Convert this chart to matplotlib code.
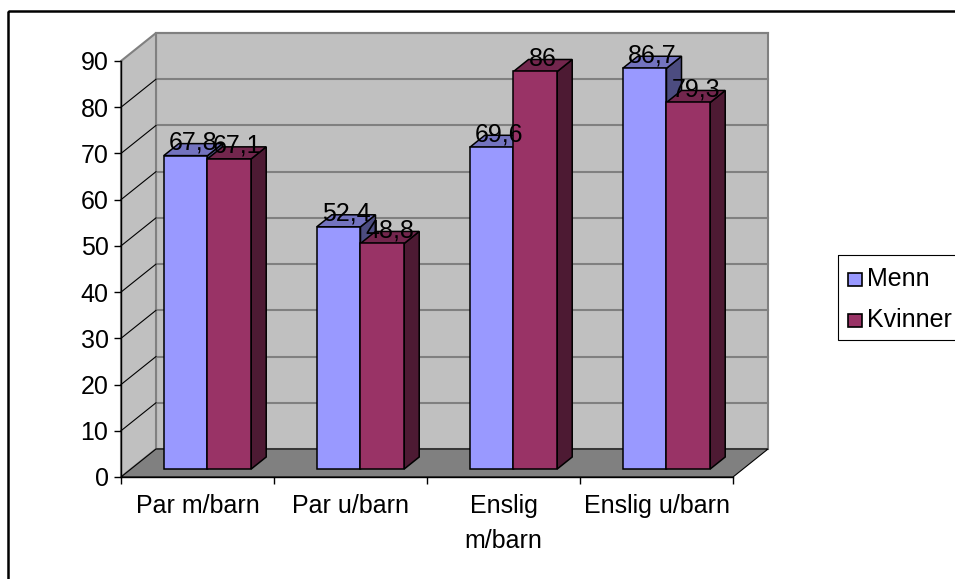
import matplotlib
matplotlib.use('agg')
import matplotlib.pyplot as plt
from matplotlib.patches import Polygon, Rectangle

# data
kategorier = ['Par m/barn', 'Par u/barn', 'Enslig\nm/barn', 'Enslig u/barn']
serier = ['Menn', 'Kvinner']
menn = [67.8, 52.4, 69.6, 86.7]
kvinner = [67.1, 48.8, 86, 79.3]
yticks = list(range(0, 100, 10))

farger = {'Menn': ('#9999FF', '#7373BF', '#4C4C80'),
          'Kvinner': ('#993366', '#73264D', '#4D1A33')}

plt.rcParams['font.family'] = ['Liberation Sans', 'DejaVu Sans']
plt.rcParams['font.size'] = 18

W, H = 955, 579
fig = plt.figure(figsize=(W / 100, H / 100), dpi=100)

# bakgrunn i piksler: ramme og forklaring
bg = fig.add_axes([0, 0, 1, 1], zorder=0)
bg.set_xlim(0, W)
bg.set_ylim(H, 0)
bg.axis('off')
bg.add_patch(Rectangle((8, 11), 1000, 1000, fill=False, ec='black', lw=1.8, clip_on=False))

# diagramflate (frontplanet)
x0, x1, y0, y1 = 121, 733, 61, 477
ax = fig.add_axes([x0 / W, 1 - y1 / H, (x1 - x0) / W, (y1 - y0) / H], zorder=2)
ax.set_facecolor('none')
ax.set_xlim(0, len(kategorier))
ax.set_ylim(0, 90)

# dybdeforskyvning i dataenheter
DX = 35 / ((x1 - x0) / len(kategorier))
DY = 28 / ((y1 - y0) / 90)
N = len(kategorier)


def proj(x, z, d):
    return (x + d * DX, z + d * DY)


def flate(pts, fc, ec='black', lw=1.0, z=1):
    ax.add_patch(Polygon(pts, closed=True, fc=fc, ec=ec, lw=lw, zorder=z,
                         clip_on=False, joinstyle='miter'))


# vegger og gulv
flate([proj(0, 0, 1), proj(N, 0, 1), proj(N, 90, 1), proj(0, 90, 1)], '#C0C0C0', ec='#808080', lw=1.5, z=0.5)
flate([proj(0, 0, 0), proj(0, 90, 0), proj(0, 90, 1), proj(0, 0, 1)], '#C0C0C0', ec='#808080', lw=1.5, z=0.6)
flate([proj(0, 0, 0), proj(N, 0, 0), proj(N, 0, 1), proj(0, 0, 1)], '#808080', ec='black', lw=0.8, z=0.7)

for v in yticks[1:]:
    a, b = proj(0, v, 1), proj(N, v, 1)
    ax.plot([a[0], b[0]], [a[1], b[1]], color='#808080', lw=1.5, zorder=0.65, clip_on=False)
    if v < 90:
        c = proj(0, v, 0)
        ax.plot([c[0], a[0]], [c[1], a[1]], color='black', lw=0.8, zorder=0.65, clip_on=False)

# søyler
w = 1 / 3.5
d0, d1 = 0.2857, 0.7143
z = 3
for i in range(N):
    for j, (navn, verdier) in enumerate(zip(serier, [menn, kvinner])):
        h = verdier[i]
        xa = i + 0.5 - w + j * w
        xb = xa + w
        front, topp, side = farger[navn]
        flate([proj(xb, 0, d0), proj(xb, 0, d1), proj(xb, h, d1), proj(xb, h, d0)], side, lw=1.1, z=z)
        flate([proj(xa, h, d0), proj(xb, h, d0), proj(xb, h, d1), proj(xa, h, d1)], topp, lw=1.1, z=z + 0.1)
        flate([proj(xa, 0, d0), proj(xb, 0, d0), proj(xb, h, d0), proj(xa, h, d0)], front, lw=1.1, z=z + 0.2)
        z += 1
        tx, ty = proj((xa + xb) / 2, h, 0.5)
        ax.text(tx, ty + 1.5, f'{h:g}'.replace('.', ','), ha='center', va='center',
                zorder=50, clip_on=False)

# akser
for s in ['top', 'right']:
    ax.spines[s].set_visible(False)
ax.spines['left'].set_linewidth(1.0)
ax.spines['bottom'].set_linewidth(1.0)
ax.set_yticks(yticks)
ax.tick_params(axis='y', direction='out', length=5, width=1, pad=4)
ax.set_xticks(range(N + 1))
ax.set_xticklabels([])
ax.set_xticks([i + 0.5 for i in range(N)], minor=True)
ax.set_xticklabels(kategorier, minor=True, linespacing=1.6)
ax.tick_params(axis='x', which='major', direction='out', length=5, width=1)
ax.tick_params(axis='x', which='minor', length=0, pad=12)

# forklaring
bg.add_patch(Rectangle((838, 255), 200, 85, fill=False, ec='black', lw=0.8, clip_on=False))
for k, navn in enumerate(serier):
    ym = 279 + k * 41
    bg.add_patch(Rectangle((848, ym - 6), 14, 13, fc=farger[navn][0], ec='black', lw=1.2))
    bg.text(867, ym, navn, va='center', ha='left')

fig.savefig('out.png', dpi=100)
